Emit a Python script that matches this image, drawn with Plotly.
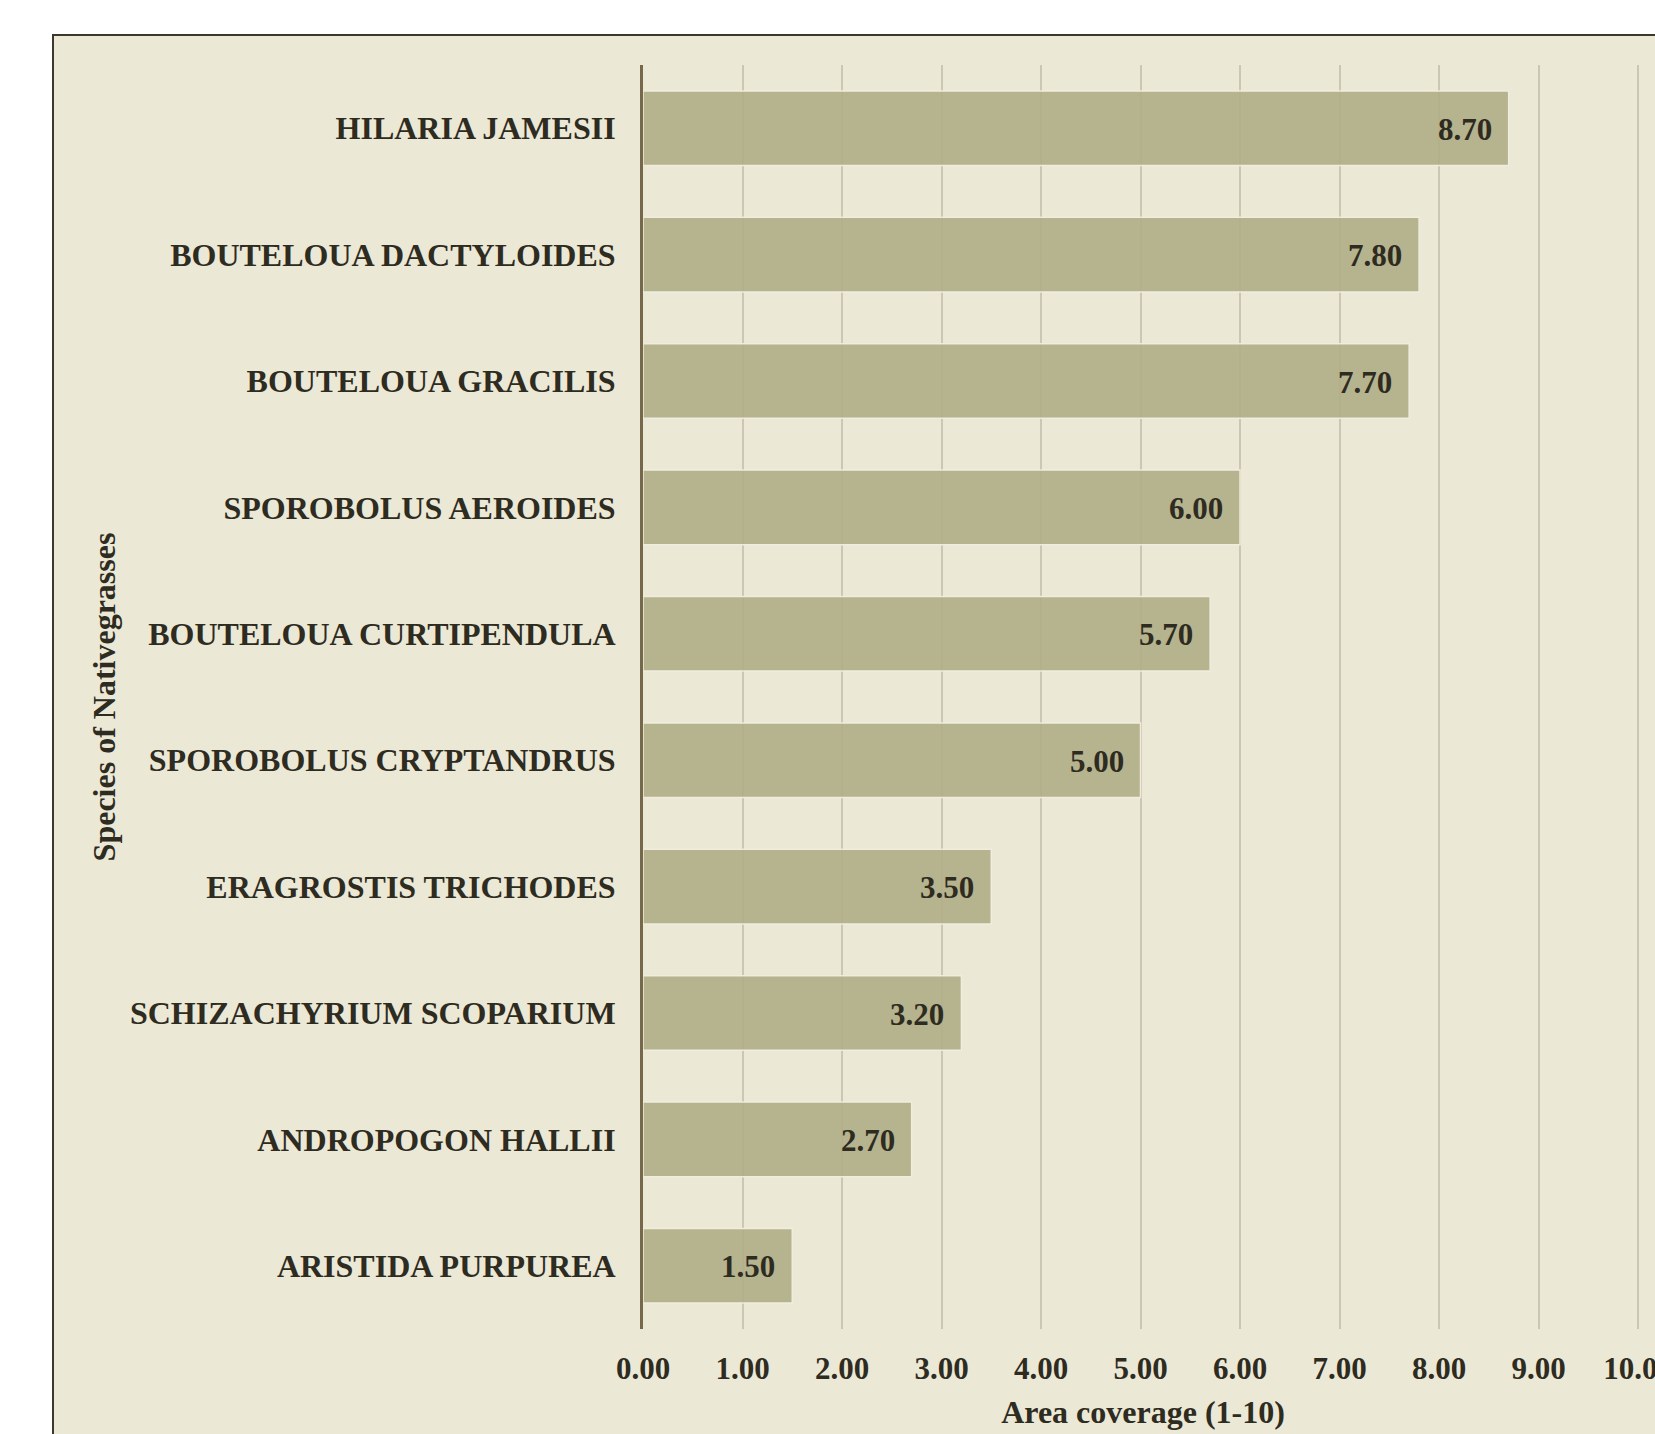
import plotly.graph_objects as go

# Native grass species and their area coverage scores (1-10 scale)
species = [
    "HILARIA JAMESII",
    "BOUTELOUA DACTYLOIDES",
    "BOUTELOUA GRACILIS",
    "SPOROBOLUS AEROIDES",
    "BOUTELOUA CURTIPENDULA",
    "SPOROBOLUS CRYPTANDRUS",
    "ERAGROSTIS TRICHODES",
    "SCHIZACHYRIUM SCOPARIUM",
    "ANDROPOGON HALLII",
    "ARISTIDA PURPUREA",
]
coverage = [8.70, 7.80, 7.70, 6.00, 5.70, 5.00, 3.50, 3.20, 2.70, 1.50]
x_ticks = [0, 1, 2, 3, 4, 5, 6, 7, 8, 9, 10]

W, H = 1655, 1434
ML, MR, MT, MB = 643, 12, 65, 105
X_MAX = 10.05

BG = "#ebe8d6"
BAR = "#b3af8a"
TEXT = "#2e2b21"
FONT = "Liberation Serif, Times New Roman, serif"

fig = go.Figure()
fig.add_trace(go.Bar(
    x=coverage,
    y=species,
    orientation="h",
    marker=dict(color=BAR, opacity=0.93, line=dict(color="#f1eedf", width=1.5)),
    width=0.59,
    hoverinfo="skip",
))

# value labels inside the right end of each bar
for s, v in zip(species, coverage):
    fig.add_annotation(
        x=v, y=s, xref="x", yref="y",
        text=f"{v:.2f}", showarrow=False,
        xanchor="right", yanchor="middle", xshift=-15, yshift=-1,
        font=dict(family=FONT, size=31, color=TEXT, weight="bold"),
    )

# framed beige panel that runs off the right and bottom edges
pw, ph = W - ML - MR, H - MT - MB
fig.add_shape(
    type="rect", xref="paper", yref="paper", layer="below",
    x0=(53 - ML) / pw, x1=(W + 40 - ML) / pw,
    y0=1 - (H + 40 - MT) / ph, y1=1 - (35 - MT) / ph,
    fillcolor=BG, line=dict(color="#3b382c", width=2),
)

fig.update_layout(
    width=W, height=H,
    margin=dict(l=ML, r=MR, t=MT, b=MB, pad=0, autoexpand=False),
    paper_bgcolor="white",
    plot_bgcolor="rgba(0,0,0,0)",
    showlegend=False,
    bargap=0.4,
    font=dict(family=FONT, color=TEXT, weight="bold"),
)
fig.update_xaxes(
    range=[0, X_MAX],
    tickvals=x_ticks,
    tickformat=".2f",
    automargin=False,
    showgrid=True, gridcolor="#cbc7b2", gridwidth=2,
    zeroline=False, showline=False, ticks="",
    tickfont=dict(family=FONT, size=31, color=TEXT, weight="bold"),
    ticklabelstandoff=18,
    ticklabeloverflow="allow",
    title=dict(text="Area coverage (1-10)", standoff=15,
               font=dict(family=FONT, size=32, color=TEXT, weight="bold")),
)
fig.update_yaxes(
    categoryorder="array", categoryarray=species, autorange="reversed",
    automargin=False,
    showgrid=False, zeroline=False,
    showline=True, linecolor="#76694b", linewidth=3,
    ticks="",
    tickfont=dict(family=FONT, size=32, color=TEXT, weight="bold"),
    ticklabelstandoff=18,
    title=dict(text="Species of Nativegrasses", standoff=5,
               font=dict(family=FONT, size=32, color=TEXT, weight="bold")),
)

fig.write_html("out.html")
